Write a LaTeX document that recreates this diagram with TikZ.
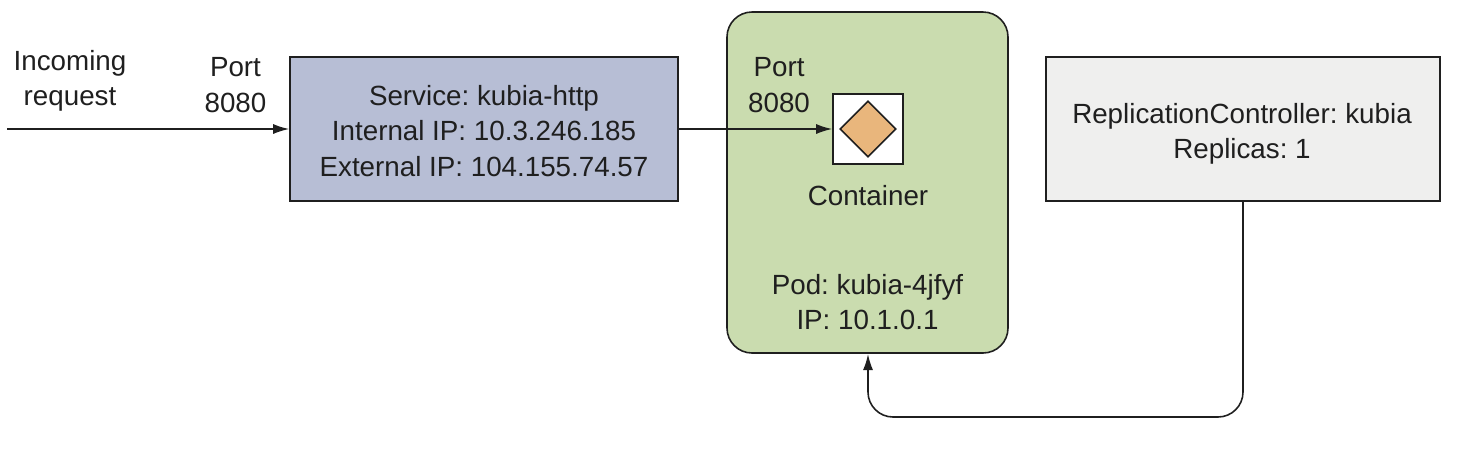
\documentclass[tikz,border=0pt]{standalone}
\usepackage{fontspec}
\setmainfont{Liberation Sans}
\usetikzlibrary{shapes.geometric,arrows.meta}
\definecolor{servicefill}{HTML}{B7BED5}
\definecolor{podfill}{HTML}{CADCAF}
\definecolor{rcfill}{HTML}{EFEFEE}
\definecolor{diamondfill}{HTML}{E9B67C}
\definecolor{ink}{HTML}{1F1F1F}
\frenchspacing
\tikzset{
  every node/.style={font=\fontsize{7.9}{10.1}\selectfont, text=ink, align=center, inner sep=0pt},
  box/.style={draw=ink, line width=.45pt, minimum width=#1},
  conn/.style={draw=ink, line width=.45pt, -{Latex[length=.16cm,width=.1cm]}}
}
\begin{document}
\begin{tikzpicture}
  	\useasboundingbox (0,0) rectangle (14.7,4.52);
  	\coordinate (start) at (.07,3.23);

  	\node[box=3.88cm, fill=servicefill, minimum height=1.44cm] (service) at (4.84,3.23) {};
  	\node[box=2.81cm, fill=podfill, minimum height=3.41cm, rounded corners=.25cm] (pod) at (8.675,2.695) {};
  	\node[box=.7cm, fill=white, minimum height=.7cm] (container) at (8.68,3.23) {};
  	\node[diamond, draw=ink, line width=.45pt, fill=diamondfill, minimum width=.56cm, minimum height=.56cm] (port) at (8.68,3.23) {};
  	\node[box=3.94cm, fill=rcfill, minimum height=1.44cm] (rc) at (12.43,3.23) {};

  	\node (servicelabel) at (4.84,3.21) {Service: kubia-http\\Internal IP: 10.3.246.185\\External IP: 104.155.74.57};
  	\node (rclabel) at (12.42,3.18) {ReplicationController: kubia\\Replicas: 1};
  	\node (incoming) at (.7,3.71) {Incoming\\request};
  	\node (svcport) at (2.355,3.67) {Port\\8080};
  	\node (podport) at (7.79,3.67) {Port\\8080};
  	\node (containerlabel) at (8.68,2.56) {Container};
  	\node (podlabel) at (8.675,1.5) {Pod: kubia-4jfyf\\IP: 10.1.0.1};

  	\coordinate (corner) at (12.43,.35);
  	\draw[conn] (start) -- (service.west);
  	\draw[conn] (service.east) -- (container.west);
  	\draw[conn, rounded corners=.25cm] (rc.south) -- (corner) -- (8.68,.35) -- (8.68,.98);
\end{tikzpicture}
\end{document}
